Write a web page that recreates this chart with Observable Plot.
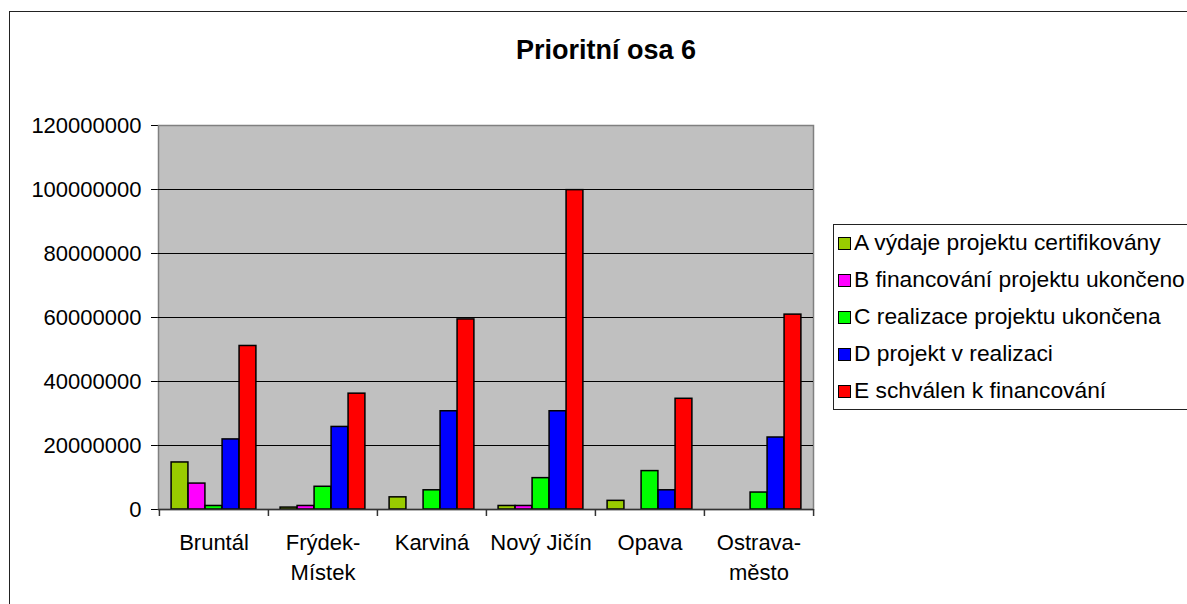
<!DOCTYPE html>
<html>
<head>
<meta charset="utf-8">
<script src="https://cdn.jsdelivr.net/npm/d3@7"></script>
<script src="https://cdn.jsdelivr.net/npm/@observablehq/plot@0.6"></script>
<style>
  html, body { margin: 0; padding: 0; background: #fff; overflow: hidden; }
  body { width: 1187px; height: 604px; position: relative; font-family: "Liberation Sans", Arial, sans-serif; }
  #border { position: absolute; left: 9px; top: 11px; width: 1400px; height: 800px; border: 1.5px solid #222; box-sizing: border-box; }
  #title { position: absolute; left: 406px; width: 400px; top: 33px; text-align: center; font-weight: bold; font-size: 27px; line-height: 34px; color: #000; }
  #chart { position: absolute; left: 0; top: 0; }
  #legend { position: absolute; left: 833px; top: 224px; width: 420px; height: 186px; border: 1.5px solid #222; box-sizing: border-box; background: #fff; }
  .row { position: absolute; left: 4px; height: 30px; display: flex; align-items: center; font-size: 22.8px; color: #000; white-space: nowrap; }
  .sw { width: 11px; height: 11px; border: 1.5px solid #000; margin-right: 3px; margin-top: 3px; flex: none; }
</style>
</head>
<body>
<div id="border"></div>
<div id="title">Prioritní osa 6</div>
<div id="chart"></div>
<div id="legend"></div>
<script>
const categories = ["Bruntál", "Frýdek-Místek", "Karviná", "Nový Jičín", "Opava", "Ostrava-město"];
const categoryLabels = ["Bruntál", "Frýdek-\nMístek", "Karviná", "Nový Jičín", "Opava", "Ostrava-\nměsto"];
const seriesNames = ["A výdaje projektu certifikovány", "B financování projektu ukončeno", "C realizace projektu ukončena", "D projekt v realizaci", "E schválen k financování"];
const seriesColors = ["#99cc00", "#ff00ff", "#00ff00", "#0000ff", "#ff0000"];
const valuesA = [14700000, 600000, 3800000, 1100000, 2700000, 0];
const valuesB = [8100000, 1100000, 0, 1100000, 0, 0];
const valuesC = [1100000, 7100000, 6000000, 9800000, 12000000, 5300000];
const valuesD = [21900000, 25800000, 30700000, 30700000, 6000000, 22500000];
const valuesE = [51100000, 36200000, 59400000, 99800000, 34600000, 60900000];
const yTicks = [0, 20000000, 40000000, 60000000, 80000000, 100000000, 120000000];

const seriesValues = [valuesA, valuesB, valuesC, valuesD, valuesE];

const W = 830, H = 604, mL = 158, mR = 17, mT = 125, mB = 95;
const bw = (W - mL - mR) / categories.length;
const groupPad = 12.1;
const barW = (bw - 2 * groupPad) / seriesNames.length;

const barMarks = seriesValues.map((vals, i) => {
  const rows = categories.map((c, j) => ({cat: c, value: vals[j]})).filter(d => d.value > 0);
  return Plot.barY(rows, {
    x: "cat", y: "value",
    fill: seriesColors[i], stroke: "#000", strokeWidth: 1.5,
    insetLeft: groupPad + barW * i,
    insetRight: bw - (groupPad + barW * (i + 1))
  });
});

const labelRows = categories.map((c, j) => ({cat: c, label: categoryLabels[j]}));

const chart = Plot.plot({
  width: W, height: H,
  marginLeft: mL, marginRight: mR, marginTop: mT, marginBottom: mB,
  style: {fontFamily: '"Liberation Sans", Arial, sans-serif', fontSize: "22px", background: "transparent", color: "#000", overflow: "visible"},
  x: {domain: categories, padding: 0, axis: null},
  y: {domain: [0, 120000000], ticks: yTicks, tickFormat: d => String(d), tickSize: 7, tickPadding: 10, line: true, label: null, grid: false},
  marks: [
    Plot.frame({fill: "#c0c0c0", stroke: "#808080", strokeWidth: 1.5}),
    Plot.ruleY(yTicks.filter(t => t > 0 && t < 120000000), {stroke: "#000", strokeWidth: 1.2}),
    ...barMarks,
    Plot.ruleY([0], {stroke: "#333", strokeWidth: 1.5}),
    Plot.ruleX(categories, {x: d => d, y1: 0, y2: 0, insetBottom: -7, dx: -bw / 2, stroke: "#333", strokeWidth: 1.5}),
    Plot.ruleX([categories[categories.length - 1]], {x: d => d, y1: 0, y2: 0, insetBottom: -7, dx: bw / 2, stroke: "#333", strokeWidth: 1.5}),
    Plot.text(labelRows, {x: "cat", text: "label", frameAnchor: "bottom", lineAnchor: "top", dy: 19, lineHeight: 1.36, fontSize: 22, fill: "#000"})
  ]
});
document.getElementById("chart").appendChild(chart);

const legend = document.getElementById("legend");
seriesNames.forEach((name, i) => {
  const row = document.createElement("div");
  row.className = "row";
  row.style.top = (2 + 37 * i) + "px";
  const sw = document.createElement("span");
  sw.className = "sw";
  sw.style.background = seriesColors[i];
  const t = document.createElement("span");
  t.textContent = name;
  row.appendChild(sw);
  row.appendChild(t);
  legend.appendChild(row);
});
</script>
</body>
</html>
